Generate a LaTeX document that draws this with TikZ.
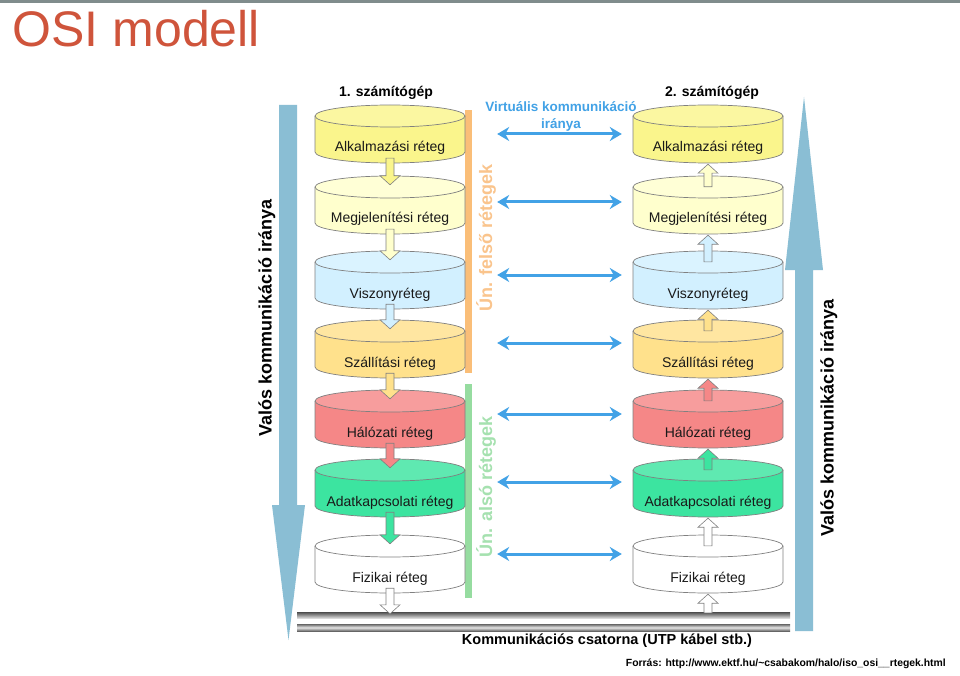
\documentclass[tikz,border=0pt]{standalone}
\usepackage{fontspec}
\setmainfont{Liberation Sans}
\usetikzlibrary{arrows.meta,calc}

\definecolor{osired}{RGB}{207,84,59}
\definecolor{topgray}{RGB}{128,140,140}
\definecolor{bigblue}{RGB}{138,190,212}
\definecolor{virtblue}{RGB}{66,162,230}
\definecolor{upcol}{RGB}{250,190,120}
\definecolor{upcoltxt}{RGB}{250,196,140}
\definecolor{locol}{RGB}{150,220,160}
\definecolor{locoltxt}{RGB}{165,225,175}
\definecolor{alkcol}{RGB}{250,245,140}
\definecolor{megcol}{RGB}{255,255,205}
\definecolor{viszcol}{RGB}{210,240,255}
\definecolor{szallcol}{RGB}{255,225,140}
\definecolor{halcol}{RGB}{245,135,135}
\definecolor{adatcol}{RGB}{60,228,160}
\definecolor{fizcol}{RGB}{255,255,255}

% block arrows between the layers
\newcommand{\dnarr}[4][10]{%
  \filldraw[blk, fill=#4] let \p1=($(#2.south)+(0,6)$), \p2=($(#3.north)+(0,-#1)$) in
    (\x1-4,\y1) -- (\x1-4,\y2+9) -- (\x1-10,\y2+9) -- (\x1,\y2) -- (\x1+10,\y2+9) -- (\x1+4,\y2+9) -- (\x1+4,\y1) -- cycle;}
\newcommand{\uparr}[4][12]{%
  \filldraw[blk, fill=#4] let \p1=($(#2.north)+(0,-#1)$), \p2=(#3.south) in
    (\x2-4,\y1) -- (\x2-4,\y2-9) -- (\x2-10,\y2-9) -- (\x2,\y2) -- (\x2+10,\y2-9) -- (\x2+4,\y2-9) -- (\x2+4,\y1) -- cycle;}

\tikzset{
  rim/.style={draw=black!50, line width=0.7pt},
  blk/.style={draw=black!50, line width=0.6pt},
  lay/.style={minimum width=152pt, minimum height=60pt, inner sep=0pt,
    text height=36pt, text depth=0pt, text=black!90,
    font=\fontsize{14}{16}\selectfont,
    path picture={
      \coordinate (cc) at (path picture bounding box.center);
      \fill[#1] ($(cc)+(-75,18)$) -- ++(0,-36)
        arc[start angle=180, end angle=360, x radius=75, y radius=11] -- ++(0,36) -- cycle;
      \draw[rim] ($(cc)+(-75,18)$) -- ++(0,-36)
        arc[start angle=180, end angle=360, x radius=75, y radius=11] -- ++(0,36);
      \filldraw[rim, fill=#1!82!white] ($(cc)+(0,18)$) ellipse[x radius=75, y radius=11];
    }},
  chan/.style={minimum width=493pt, minimum height=19pt, inner sep=0pt,
    path picture={
      \coordinate (cc) at (path picture bounding box.center);
      \shade[top color=black!70, bottom color=black!15]
        ($(cc)+(-246.5,9.5)$) rectangle ($(cc)+(246.5,3.5)$);
      \shade[top color=black!60, bottom color=black!60, middle color=black!10]
        ($(cc)+(-246.5,-2.5)$) rectangle ($(cc)+(246.5,-9.5)$);
    }},
  virt/.style={draw=virtblue, line width=3pt,
    arrows={Stealth[length=12pt,width=14pt]-Stealth[length=12pt,width=14pt]},
    shorten <=31pt, shorten >=10pt},
  pc/.style={font=\bfseries\fontsize{14}{16}\selectfont},
  real/.style={rotate=90, font=\bfseries\fontsize{18}{20}\selectfont},
  grp/.style={rotate=90, font=\bfseries\fontsize{18}{20}\selectfont}
}

\begin{document}
\begin{tikzpicture}[x=1pt, y=1pt]
\fill[white] (0,0) rectangle (960,-676);
\useasboundingbox (0,0) rectangle (960,-676);
\fill[topgray] (0,0) rectangle (960,-3);
\node[anchor=base west, inner sep=0pt, text=osired, font=\fontsize{50}{60}\selectfont] (ttl) at (12.5,-47) {OSI modell};

% real direction
\fill[bigblue] (279,-105) -- (279,-505) -- (272,-505) -- (288.5,-640) -- (305,-505) -- (297,-505) -- (297,-105) -- cycle;
\fill[bigblue] (795,-631) -- (795,-270) -- (785,-270) -- (804,-97) -- (823,-270) -- (813,-270) -- (813,-631) -- cycle;
\node[real] (lv) at (267,-318) {Valós kommunikáció iránya};
\node[real] (rv) at (829,-418) {Valós kommunikáció iránya};

% upper / lower groups
\fill[upcol] (465,-110) rectangle (472,-373);
\fill[locol] (465,-384) rectangle (472,-598);
\node[grp, text=upcoltxt] (up) at (486,-238) {Ún. felső rétegek};
\node[grp, text=locoltxt] (lo) at (486,-487) {Ún. alsó rétegek};

\node[pc] (pc1) at (386,-93) {1. számítógép};
\node[pc] (pc2) at (712,-93) {2. számítógép};
\node[pc, text=virtblue, align=center, font=\bfseries\fontsize{13.5}{17}\selectfont] (vt) at (561,-116) {Virtuális kommunikáció\\iránya};

% layers
\node[lay=alkcol] (L1) at (390,-134) {Alkalmazási réteg};
\node[lay=megcol] (L2) at (390,-205) {Megjelenítési réteg};
\node[lay=viszcol] (L3) at (390,-280) {Viszonyréteg};
\node[lay=szallcol] (L4) at (390,-349) {Szállítási réteg};
\node[lay=halcol] (L5) at (390,-419) {Hálózati réteg};
\node[lay=adatcol] (L6) at (390,-488) {Adatkapcsolati réteg};
\node[lay=fizcol] (L7) at (390,-564) {Fizikai réteg};

\node[lay=alkcol] (R1) at (708,-134) {Alkalmazási réteg};
\node[lay=megcol] (R2) at (708,-205) {Megjelenítési réteg};
\node[lay=viszcol] (R3) at (708,-280) {Viszonyréteg};
\node[lay=szallcol] (R4) at (708,-349) {Szállítási réteg};
\node[lay=halcol] (R5) at (708,-419) {Hálózati réteg};
\node[lay=adatcol] (R6) at (708,-488) {Adatkapcsolati réteg};
\node[lay=fizcol] (R7) at (708,-564) {Fizikai réteg};

\node[chan] (ch) at (543.5,-621.5) {};
\node[pc, font=\bfseries\fontsize{14.5}{16}\selectfont] (chl) at (607,-641) {Kommunikációs csatorna (UTP kábel stb.)};

% down the first stack
\dnarr{L1}{L2}{alkcol}
\dnarr{L2}{L3}{megcol}
\dnarr{L3}{L4}{viszcol}
\dnarr{L4}{L5}{szallcol}
\dnarr{L5}{L6}{halcol}
\dnarr{L6}{L7}{adatcol}
\dnarr[2]{L7}{ch}{fizcol}

% up the second stack
\uparr[1]{ch}{R7}{fizcol}
\uparr{R7}{R6}{fizcol}
\uparr{R6}{R5}{adatcol}
\uparr{R5}{R4}{halcol}
\uparr{R4}{R3}{szallcol}
\uparr{R3}{R2}{viszcol}
\uparr{R2}{R1}{megcol}

% virtual communication
\draw[virt] (L1.east) -- (R1.west);
\draw[virt] ([yshift=3]L2.east) -- ([yshift=3]R2.west);
\draw[virt] ([yshift=5]L3.east) -- ([yshift=5]R3.west);
\draw[virt] ([yshift=6]L4.east) -- ([yshift=6]R4.west);
\draw[virt] ([yshift=5]L5.east) -- ([yshift=5]R5.west);
\draw[virt] ([yshift=6]L6.east) -- ([yshift=6]R6.west);
\draw[virt] ([yshift=10]L7.east) -- ([yshift=10]R7.west);

\node[anchor=east, inner sep=0pt, font=\bfseries\fontsize{10.4}{12}\selectfont] (src) at (946,-664)
  {Forrás: http://www.ektf.hu/\textasciitilde csabakom/halo/iso\_osi\_\_rtegek.html};
\end{tikzpicture}
\end{document}
